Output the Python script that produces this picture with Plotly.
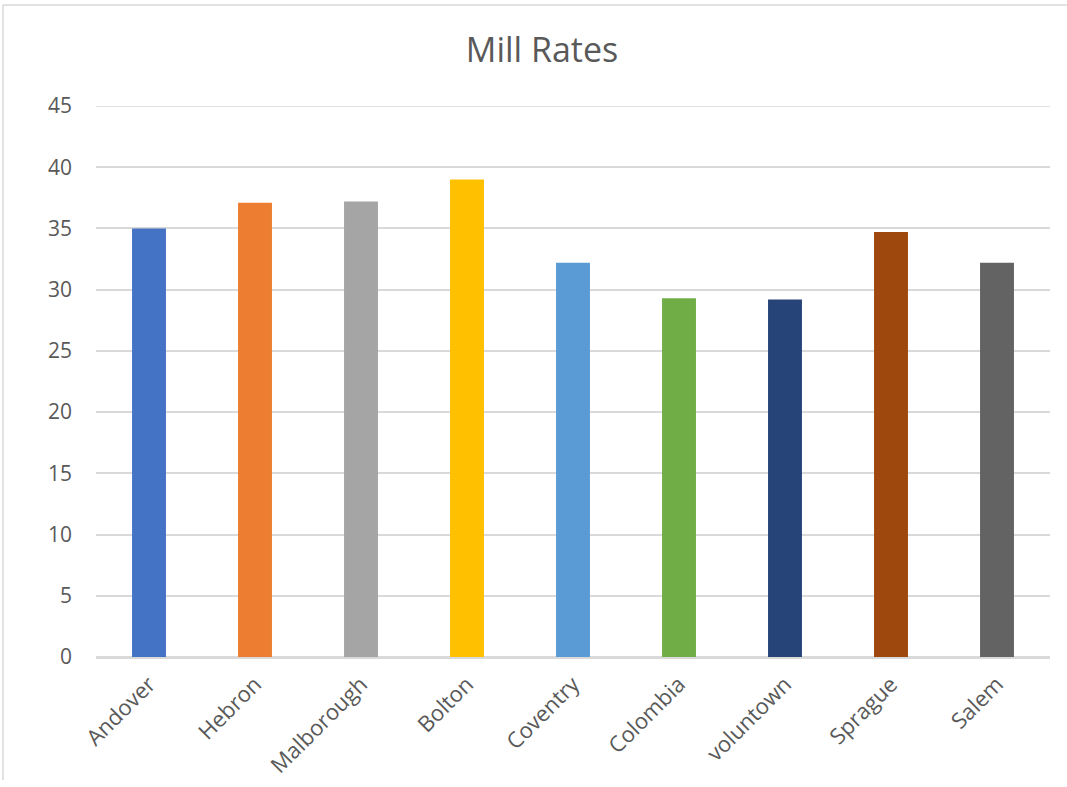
import plotly.graph_objects as go

towns = ["Andover", "Hebron", "Malborough", "Bolton", "Coventry", "Colombia", "voluntown", "Sprague", "Salem"]
mill_rates = [35.0, 37.1, 37.2, 39.0, 32.2, 29.3, 29.2, 34.7, 32.2]
colors = ["#4472C4", "#ED7D31", "#A5A5A5", "#FFC000", "#5B9BD5", "#70AD47", "#264478", "#9E480E", "#636363"]
y_ticks = [0, 5, 10, 15, 20, 25, 30, 35, 40, 45]

fig = go.Figure(go.Bar(x=towns, y=mill_rates, marker_color=colors, marker_line_width=0))

fig.update_layout(
    width=1067, height=787,
    margin=dict(l=96, r=17, t=106, b=130),
    paper_bgcolor="white", plot_bgcolor="white",
    font=dict(family="Open Sans, Noto Sans, sans-serif", color="#595959", size=21),
    title=dict(text="Mill Rates", x=0.508, xanchor="center", y=0.936, yanchor="middle",
               font=dict(size=34, color="#595959")),
    bargap=0.68,
    showlegend=False,
)
fig.update_xaxes(tickangle=-45, showgrid=False, showline=True, linecolor="#d9d9d9", linewidth=1.5,
                 ticks="", tickfont=dict(size=22), ticklabelstandoff=4, automargin=False)
fig.update_yaxes(range=[0, 45], tickvals=y_ticks, showgrid=True, gridcolor="#d9d9d9", gridwidth=1.5,
                 zeroline=True, zerolinecolor="#d9d9d9", zerolinewidth=1.5, ticks="",
                 ticklabelstandoff=23, tickfont=dict(size=21), automargin=False)

# top gridline (Plotly omits the gridline at the very edge of the range)
fig.add_shape(type="line", xref="paper", yref="y", x0=0, x1=1, y0=y_ticks[-1], y1=y_ticks[-1],
              line=dict(color="#d9d9d9", width=1.5), layer="below")

# chart area border (left and top edges visible)
fig.add_shape(type="line", xref="paper", yref="paper", x0=-93/954, x1=1.1, y0=(657-5)/551, y1=(657-5)/551,
              line=dict(color="#d9d9d9", width=1.5))
fig.add_shape(type="line", xref="paper", yref="paper", x0=-93/954, x1=-93/954, y0=(657-5)/551, y1=-(780-657)/551,
              line=dict(color="#d9d9d9", width=1.5))

fig.write_html("out.html")
